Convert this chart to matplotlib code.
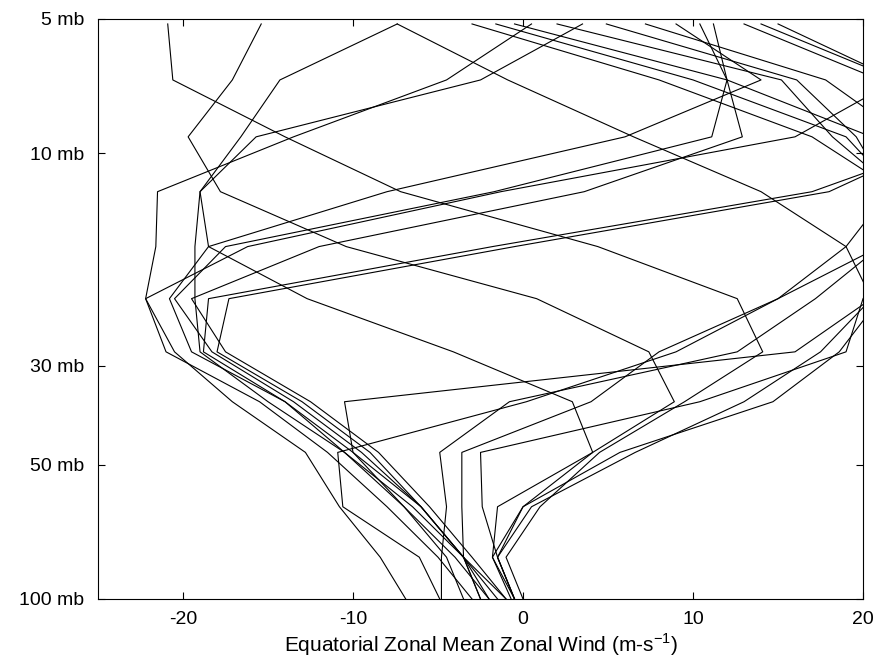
import matplotlib
matplotlib.use("Agg")
import matplotlib.pyplot as plt
import numpy as np

# pressure levels of the profiles (mb), top to bottom
levels = [5.13, 6.85, 9.19, 12.2, 16.2, 21.2, 27.9, 36.1, 46.9, 62.1, 80.6, 100.0]

# zonal wind (m/s) of each profile at the levels above
profiles = [
    [-20.9, -20.6, -14.0, -7.2, 4.4, 12.6, 14.1, 9.5, 4.5, 1.0, -1.0, 0.0],
    [-15.4, -17.1, -19.7, -17.8, -10.4, 0.8, 7.4, 8.9, 4.1, 0.0, -1.5, -0.5],
    [-7.4, -14.3, -16.6, -19.0, -18.5, -12.7, -4.1, 2.9, 4.1, -1.5, -1.8, -0.7],
    [3.5, -2.5, -15.7, -19.0, -19.3, -19.3, -19.0, -15.0, -10.5, -6.5, -3.5, -2.5],
    [0.5, -4.5, -13.5, -21.5, -21.6, -22.2, -20.5, -17.1, -12.8, -10.8, -8.4, -6.9],
    [15.0, 22.0, 16.0, -1.3, -16.2, -22.2, -21.0, -15.5, -11.5, -8.0, -5.0, -3.0],
    [14.0, 22.0, 26.0, 17.0, -1.8, -18.5, -18.8, -14.0, -10.5, -7.0, -4.5, -3.5],
    [13.0, 21.0, 25.0, 18.0, -0.5, -17.3, -18.0, -13.0, -9.0, -6.0, -3.5, -2.0],
    [11.2, 12.0, 12.9, 3.6, -12.0, -19.5, -17.5, -12.5, -8.5, -5.5, -3.0, -1.0],
    [10.4, 12.0, 11.1, -1.7, -17.5, -20.5, -18.3, -13.5, -9.5, -6.0, -3.5, -1.5],
    [-7.4, -0.9, 6.5, 14.0, 19.0, 20.5, 17.5, 13.0, 6.6, 0.5, -1.5, -0.5],
    [7.2, 17.8, 22.5, 23.0, 21.0, 20.5, 16.0, -10.5, -10.0, -6.0, -3.5, -2.5],
    [4.9, 16.1, 19.6, 21.5, 19.0, 15.0, 9.0, 0.2, -10.9, -10.6, -6.1, -4.9],
    [2.0, 15.2, 18.2, 22.0, 21.0, 17.2, 12.6, -0.8, -4.9, -4.5, -4.8, -4.8],
    [-3.0, 8.0, 17.0, 22.0, 22.0, 21.0, 18.6, 14.7, 5.7, 0.0, -1.8, -0.5],
    [-1.6, 10.0, 19.0, 22.0, 22.0, 20.0, 19.0, 10.4, -2.5, -2.4, -1.5, -0.5],
    [-0.5, 12.0, 20.5, 23.0, 21.0, 15.0, 8.0, 4.0, -3.6, -3.6, -3.5, -1.0],
    [9.0, 14.0, 6.0, -8.0, -18.5, -20.8, -19.5, -14.0, -10.0, -7.0, -4.0, -2.0],
]

pressure_ticks = [5, 10, 30, 50, 100]
pressure_labels = ["5 mb", "10 mb", "30 mb", "50 mb", "100 mb"]
wind_ticks = [-20, -10, 0, 10, 20]
wind_labels = ["-20", "-10", "0", "10", "20"]

plt.rcParams['font.family'] = ['Liberation Sans', 'DejaVu Sans']

fig = plt.figure(figsize=(8.76, 6.57), dpi=100)
ax = fig.add_axes([0.1119, 0.0883, 0.8733, 0.8828])

for u in profiles:
    ax.plot(u, levels, color='black', linewidth=0.8)

ax.set_yscale('log')
ax.set_ylim(100, 5)
ax.set_xlim(-25, 20)
ax.set_yticks(pressure_ticks)
ax.set_yticklabels(pressure_labels)
ax.yaxis.set_minor_locator(matplotlib.ticker.NullLocator())
ax.set_xticks(wind_ticks)
ax.set_xticklabels(wind_labels)
ax.tick_params(direction='in', top=True, right=True, length=5, width=0.8,
               labelsize=14)
ax.tick_params(axis='y', pad=10)
ax.tick_params(axis='x', pad=9)
for s in ax.spines.values():
    s.set_linewidth(0.8)

ax.set_xlabel(r'Equatorial Zonal Mean Zonal Wind (m-s$^{\mathregular{-1}}$)',
              fontsize=15, labelpad=2)

fig.savefig("out.png", dpi=100)
